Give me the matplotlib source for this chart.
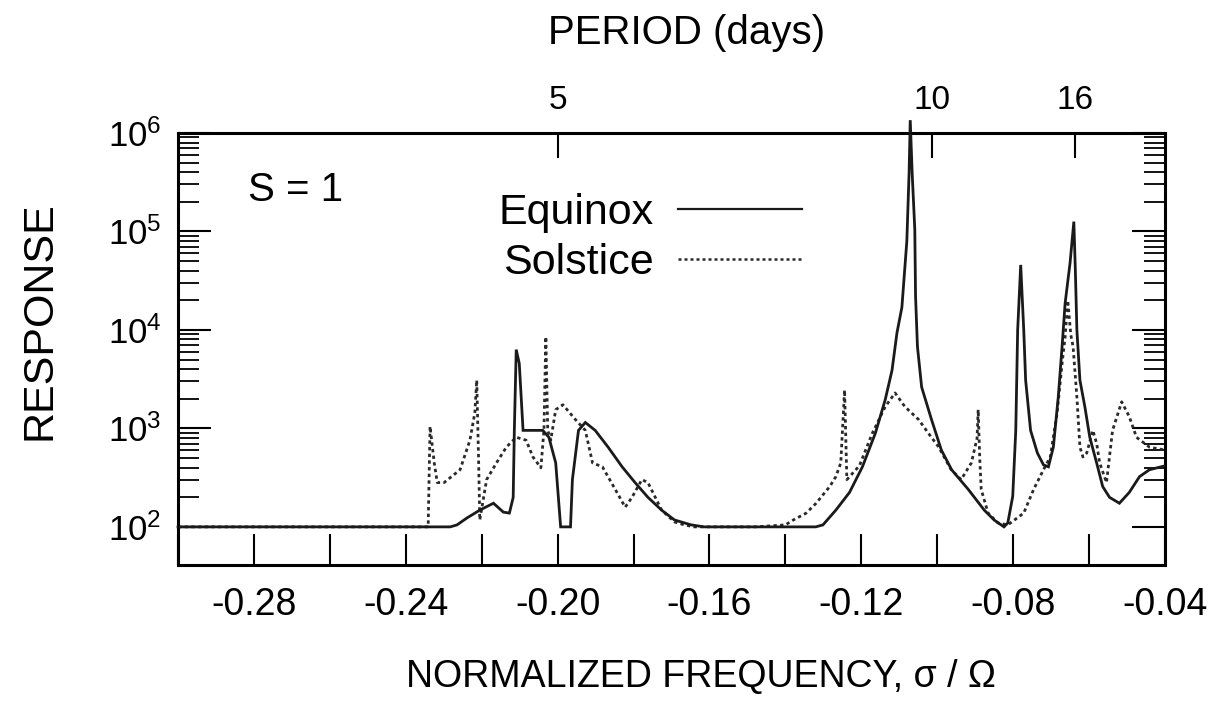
import numpy as np
import matplotlib
matplotlib.use("Agg")
import matplotlib.pyplot as plt
from matplotlib.ticker import FixedLocator, NullFormatter
from matplotlib.lines import Line2D

plt.rcParams['font.family'] = ['Liberation Sans', 'DejaVu Sans']
plt.rcParams['mathtext.fontset'] = 'custom'
plt.rcParams['mathtext.rm'] = 'Liberation Sans'
plt.rcParams['mathtext.it'] = 'Liberation Sans:italic'

# --- data: normalized frequency vs log10(response) ---
equinox_x = [-0.300, -0.2283, -0.2265, -0.2239, -0.2205, -0.2169, -0.2143, -0.2127,
             -0.2117, -0.2114, -0.2109, -0.2101, -0.2091, -0.2083, -0.2039, -0.2023,
             -0.2005, -0.1992, -0.1966, -0.1961, -0.1945, -0.1927, -0.1901, -0.1867,
             -0.1830, -0.1796, -0.1762, -0.1726, -0.1692, -0.1648, -0.1614, -0.1320,
             -0.1301, -0.1267, -0.1231, -0.1197, -0.1163, -0.1137, -0.1119, -0.1106,
             -0.1093, -0.1080, -0.1074, -0.1071, -0.1066, -0.1059, -0.1057, -0.1052,
             -0.1041, -0.1015, -0.0989, -0.0962, -0.0918, -0.0876, -0.0850, -0.0824,
             -0.0814, -0.0801, -0.0793, -0.0788, -0.0780, -0.0772, -0.0767, -0.0754,
             -0.0736, -0.0720, -0.0707, -0.0694, -0.0681, -0.0671, -0.0663, -0.0650,
             -0.0640, -0.0636, -0.0632, -0.0624, -0.0611, -0.0598, -0.0580, -0.0564,
             -0.0546, -0.0520, -0.0494, -0.0467, -0.0441, -0.0400]
equinox_logr = [2.00, 2.00, 2.02, 2.09, 2.17, 2.24, 2.15, 2.14,
                2.30, 2.98, 3.80, 3.66, 2.98, 2.98, 2.98, 2.91,
                2.65, 2.00, 2.00, 2.48, 2.98, 3.06, 2.98, 2.81,
                2.61, 2.45, 2.30, 2.17, 2.07, 2.02, 2.00, 2.00,
                2.02, 2.17, 2.35, 2.61, 2.95, 3.29, 3.59, 3.97,
                4.23, 4.90, 5.60, 6.13, 5.60, 5.02, 4.34, 3.83,
                3.42, 3.09, 2.78, 2.58, 2.38, 2.17, 2.07, 2.00,
                2.04, 2.31, 2.98, 4.00, 4.66, 4.00, 3.49, 2.98,
                2.75, 2.63, 2.61, 2.81, 3.32, 3.83, 4.27, 4.68,
                5.10, 4.60, 4.00, 3.49, 3.22, 2.91, 2.65, 2.41,
                2.30, 2.24, 2.35, 2.51, 2.58, 2.62]

solstice_x = [-0.300, -0.2341, -0.2336, -0.2325, -0.2317, -0.2299, -0.2257, -0.2231,
              -0.2218, -0.2213, -0.2208, -0.2205, -0.2187, -0.2161, -0.2135, -0.2109,
              -0.2083, -0.2065, -0.2044, -0.2036, -0.2031, -0.2026, -0.2018, -0.2005,
              -0.1986, -0.1953, -0.1927, -0.1908, -0.1882, -0.1848, -0.1822, -0.1804,
              -0.1778, -0.1762, -0.1726, -0.1692, -0.1666, -0.1640, -0.1480, -0.1400,
              -0.1379, -0.1345, -0.1319, -0.1283, -0.1267, -0.1254, -0.1244, -0.1238,
              -0.1205, -0.1171, -0.1137, -0.1111, -0.1085, -0.1049, -0.1023, -0.0996,
              -0.0963, -0.0937, -0.0910, -0.0895, -0.0892, -0.0888, -0.0884, -0.0866,
              -0.0840, -0.0814, -0.0772, -0.0746, -0.0720, -0.0702, -0.0684, -0.0671,
              -0.0663, -0.0656, -0.0648, -0.0642, -0.0632, -0.0624, -0.0616, -0.0606,
              -0.0590, -0.0580, -0.0572, -0.0554, -0.0538, -0.0514, -0.0494, -0.0475,
              -0.0441, -0.0400]
solstice_logr = [2.00, 2.00, 3.02, 2.65, 2.45, 2.45, 2.58, 2.88,
                 3.16, 3.49, 2.65, 2.07, 2.48, 2.65, 2.81, 2.91,
                 2.88, 2.71, 2.60, 2.98, 3.93, 2.98, 2.88, 3.19,
                 3.24, 3.09, 2.98, 2.65, 2.61, 2.38, 2.20, 2.30,
                 2.48, 2.45, 2.17, 2.05, 2.02, 2.00, 2.00, 2.02,
                 2.07, 2.14, 2.24, 2.41, 2.51, 2.65, 3.39, 2.48,
                 2.62, 2.95, 3.22, 3.36, 3.22, 3.09, 2.95, 2.81,
                 2.58, 2.48, 2.65, 2.90, 3.19, 2.70, 2.38, 2.14,
                 2.04, 2.02, 2.14, 2.38, 2.58, 2.71, 3.16, 3.66,
                 3.93, 4.30, 3.95, 3.83, 3.32, 2.81, 2.71, 2.75,
                 2.98, 2.85, 2.65, 2.45, 2.98, 3.27, 3.12, 2.91,
                 2.81, 2.78]

freq_ticks = [-0.30, -0.28, -0.26, -0.24, -0.22, -0.20, -0.18, -0.16,
              -0.14, -0.12, -0.10, -0.08, -0.06, -0.04]
freq_labels = ['-0.28', '-0.24', '-0.20', '-0.16', '-0.12', '-0.08', '-0.04']
period_labels = ['5', '10', '16']
period_pos = [-0.2000, -0.1013, -0.0638]
decades = [1e2, 1e3, 1e4, 1e5, 1e6]
decade_labels = ['10$^2$', '10$^3$', '10$^4$', '10$^5$', '10$^6$']

eq = 10 ** np.array(equinox_logr)
so = 10 ** np.array(solstice_logr)

fig = plt.figure(figsize=(12.26, 7.01), dpi=100)
ax = fig.add_axes([0.1452, 0.194, 0.8050, 0.6163])

ax.plot(equinox_x, eq, color='#1a1a1a', lw=2.0, solid_joinstyle='miter', clip_on=False, zorder=3)
ax.plot(solstice_x, so, color='#2a2a2a', lw=2.0, ls=(0, (1.2, 1.2)), zorder=2)

ax.set_yscale('log')
ax.set_xlim(-0.30, -0.04)
ax.set_ylim(41, 1e6)

# ticks
ax.xaxis.set_major_locator(FixedLocator([-0.28, -0.24, -0.20, -0.16, -0.12, -0.08, -0.04]))
ax.set_xticklabels(freq_labels)
ax.xaxis.set_minor_locator(FixedLocator(freq_ticks))
ax.yaxis.set_major_locator(FixedLocator(decades))
ax.set_yticklabels(decade_labels)
minor = [m * d for d in decades[:-1] for m in range(2, 10)]
ax.yaxis.set_minor_locator(FixedLocator(minor))
ax.yaxis.set_minor_formatter(NullFormatter())

ax.tick_params(axis='x', which='both', direction='in', length=22, width=1.5,
               top=False, labelsize=27, pad=16)
ax.tick_params(axis='y', which='major', direction='in', length=24, width=1.5,
               right=True, labelsize=25, pad=12)
ax.tick_params(axis='y', which='minor', direction='in', length=15, width=1.3, right=True)

for s in ax.spines.values():
    s.set_linewidth(2.2)

ax_top = ax.twiny()
ax_top.set_xlim(ax.get_xlim())
ax_top.set_xticks(period_pos)
ax_top.set_xticklabels(period_labels)
ax_top.xaxis.set_minor_locator(FixedLocator([]))
ax_top.tick_params(axis='x', direction='in', length=18, width=1.5, labelsize=24, pad=12)
ax_top.set_xlabel('PERIOD (days)', fontsize=29)
ax_top.xaxis.set_label_coords(0.515, 1.205)

ax.set_ylabel('RESPONSE', fontsize=31)
ax.yaxis.set_label_coords(-0.12, 0.565)

fig.text(0.572, 14 / 701, 'NORMALIZED FREQUENCY, σ / Ω', fontsize=27,
         ha='center', va='baseline')

ax.text(0.071, 0.868, 'S = 1', transform=ax.transAxes, fontsize=29,
        ha='left', va='center')

handles = [Line2D([], [], color='#1a1a1a', lw=1.6),
           Line2D([], [], color='#2a2a2a', lw=1.8, ls=(0, (1.2, 1.2)))]
ax.legend(handles, ['Equinox', 'Solstice'], loc='upper left',
          bbox_to_anchor=(0.325, 0.86), frameon=False, markerfirst=False,
          handlelength=2.9, handletextpad=0.55, labelspacing=0.22,
          fontsize=31, borderaxespad=0, borderpad=0)

fig.savefig('out.png', dpi=100)
